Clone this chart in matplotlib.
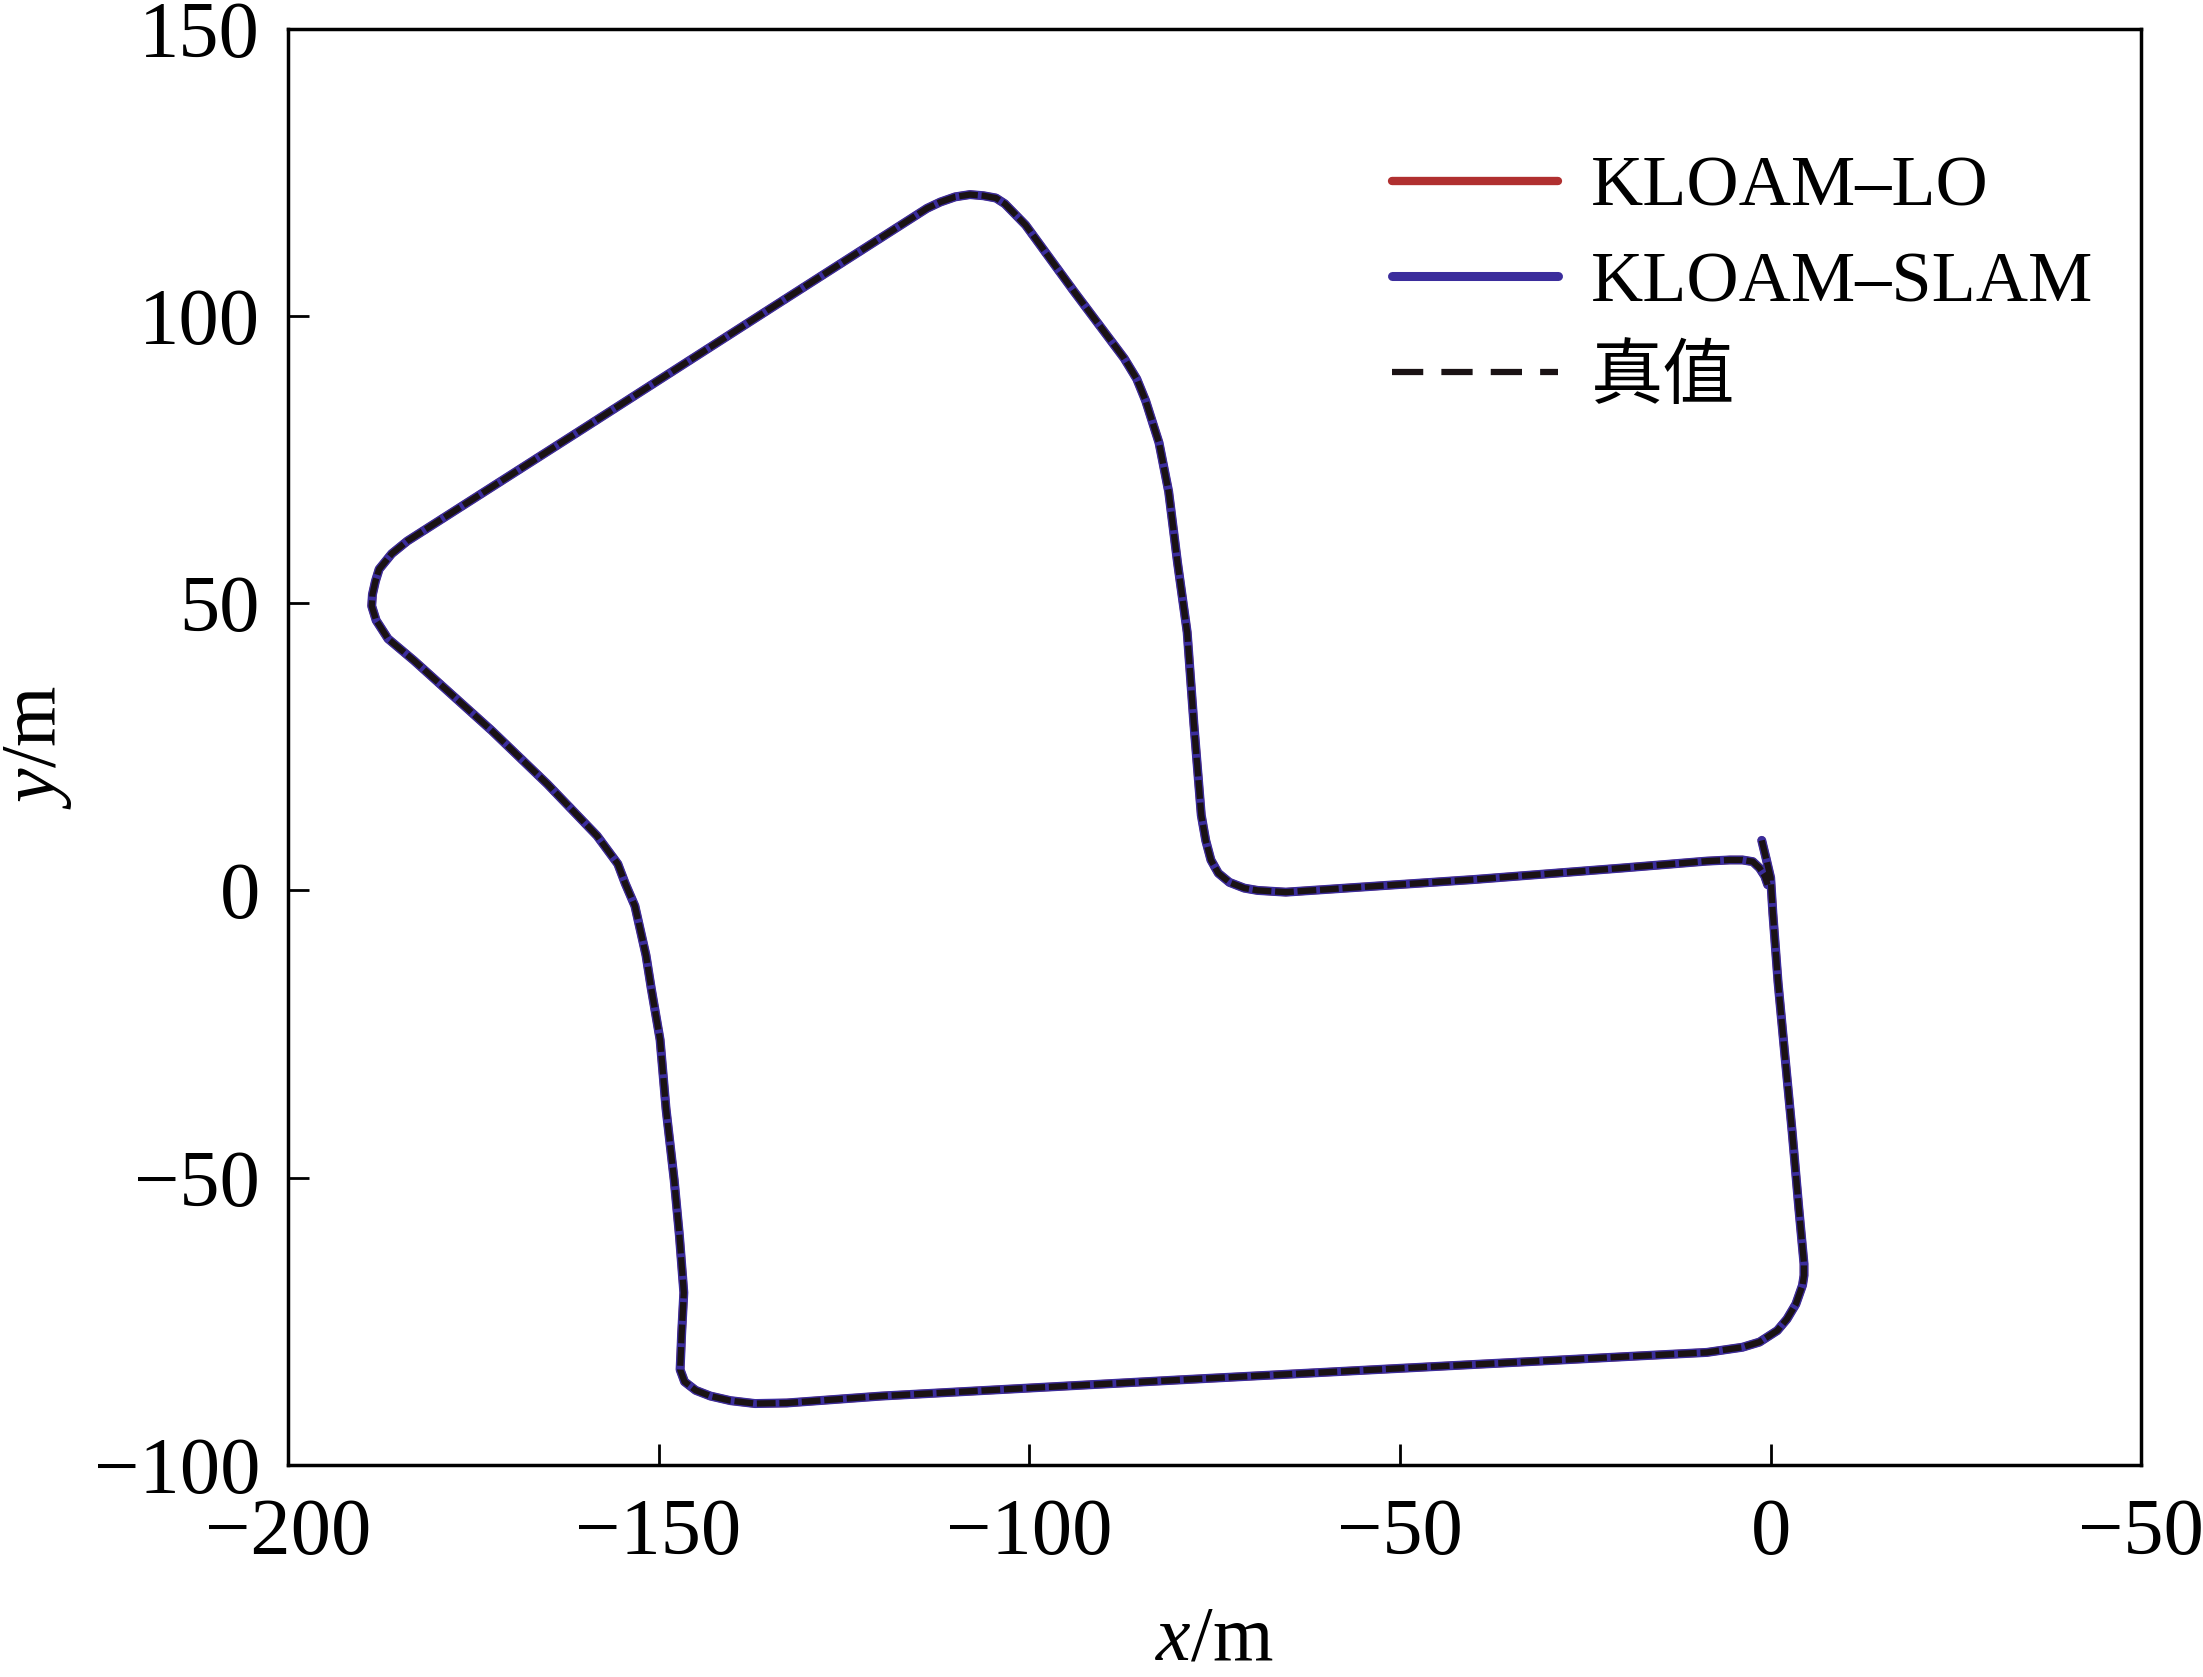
import numpy as np
import matplotlib
matplotlib.use('Agg')
from matplotlib import pyplot as plt

plt.rcParams['font.family'] = ['Liberation Serif', 'Noto Sans CJK SC']
plt.rcParams['mathtext.fontset'] = 'custom'
plt.rcParams['mathtext.rm'] = 'Liberation Serif'
plt.rcParams['mathtext.it'] = 'Liberation Serif:italic'

# trajectory (x, y in metres)
truth_x = [-1.2, -0.6, 0.0, 0.3, 1.0, 1.9, 2.9, 3.8, 4.5, 4.5, 4.3, 3.4, 2.2, 0.9, -1.5,
           -3.8, -8.6, -40.0, -80.0, -120.0, -132.7, -137.0, -140.3, -143.0, -145.0, -146.5,
           -147.1, -147.0, -146.9, -146.6, -147.2, -147.9, -149.0, -149.8, -151.0, -151.7,
           -153.2, -154.5, -155.5, -158.3, -165.0, -172.5, -183.0, -186.5, -188.1, -188.7,
           -188.6, -188.2, -187.7, -186.0, -183.9, -160.0, -135.0, -113.8, -112.0, -110.0,
           -108.0, -106.2, -104.5, -103.3, -100.5, -94.0, -87.2, -85.5, -84.3, -82.5,
           -81.2, -80.0, -78.7, -77.8, -76.8, -76.2, -75.5, -74.5, -73.0, -71.0, -69.2,
           -65.4, -40.0, -20.0, -8.6, -5.5, -3.8, -2.4, -1.5, -0.8, -0.4]
truth_y = [8.7, 5.5, 2.2, -4.0, -16.0, -28.4, -42.0, -55.3, -65.0, -67.0, -68.7, -72.0,
           -74.6, -76.6, -78.6, -79.5, -80.4, -82.5, -85.2, -88.0, -89.2, -89.3, -88.8,
           -88.0, -87.0, -85.5, -83.4, -80.5, -77.3, -70.0, -60.0, -50.4, -38.0, -26.0,
           -17.0, -11.3, -2.7, 1.2, 4.6, 9.5, 18.5, 27.8, 40.0, 43.8, 47.0, 49.5, 51.5,
           53.8, 55.9, 58.6, 60.8, 80.5, 101.2, 118.7, 119.8, 120.7, 121.1, 120.9, 120.5,
           119.5, 115.8, 104.3, 92.6, 89.0, 85.2, 77.9, 69.4, 57.0, 44.9, 29.0, 13.1, 8.7,
           5.3, 3.0, 1.4, 0.4, 0.0, -0.3, 1.9, 3.9, 5.1, 5.3, 5.3, 5.0, 3.9, 2.5, 1.0]

lo_x, lo_y = truth_x, truth_y
slam_x, slam_y = truth_x, truth_y

labels = ['KLOAM\u2013LO', 'KLOAM\u2013SLAM', '真值']
xticks = [-200, -150, -100, -50, 0, 50]
xtick_labels = ['\u2212200', '\u2212150', '\u2212100', '\u221250', '0', '\u221250']
yticks = [-100, -50, 0, 50, 100, 150]
ytick_labels = ['\u2212100', '\u221250', '0', '50', '100', '150']

fig = plt.figure(figsize=(22.03, 16.77), dpi=100)
ax = fig.add_axes([0.1307, 0.1264, 0.972 - 0.1307, 0.983 - 0.1264])

ax.plot(lo_x, lo_y, color='#b03030', lw=6, label=labels[0], solid_capstyle='round')
ax.plot(slam_x, slam_y, color='#3b2d9c', lw=6.5, label=labels[1], solid_capstyle='round')
ax.plot(truth_x, truth_y, color='#1a1214', lw=4.5, ls=(0, (3, 0.6)), label=labels[2])

ax.set_xlim(-200, 50)
ax.set_ylim(-100, 150)
ax.set_xticks(xticks)
ax.set_xticklabels(xtick_labels)
ax.set_yticks(yticks)
ax.set_yticklabels(ytick_labels)
ax.tick_params(direction='in', length=15, width=2, labelsize=58, pad=20)
ax.tick_params(axis='x', pad=24)
for s in ax.spines.values():
    s.set_linewidth(2.5)

ax.set_xlabel('$x$/m', fontsize=56, labelpad=24)
ax.set_ylabel('$y$/m', fontsize=56, labelpad=14)

leg = ax.legend(loc='upper right', bbox_to_anchor=(1.009, 0.957), frameon=False,
                fontsize=52, handlelength=2.3, handletextpad=0.45, labelspacing=0.41)
leg.legend_handles[2].set_linestyle((0, (5, 2.9)))

fig.savefig('out.png', dpi=100)
